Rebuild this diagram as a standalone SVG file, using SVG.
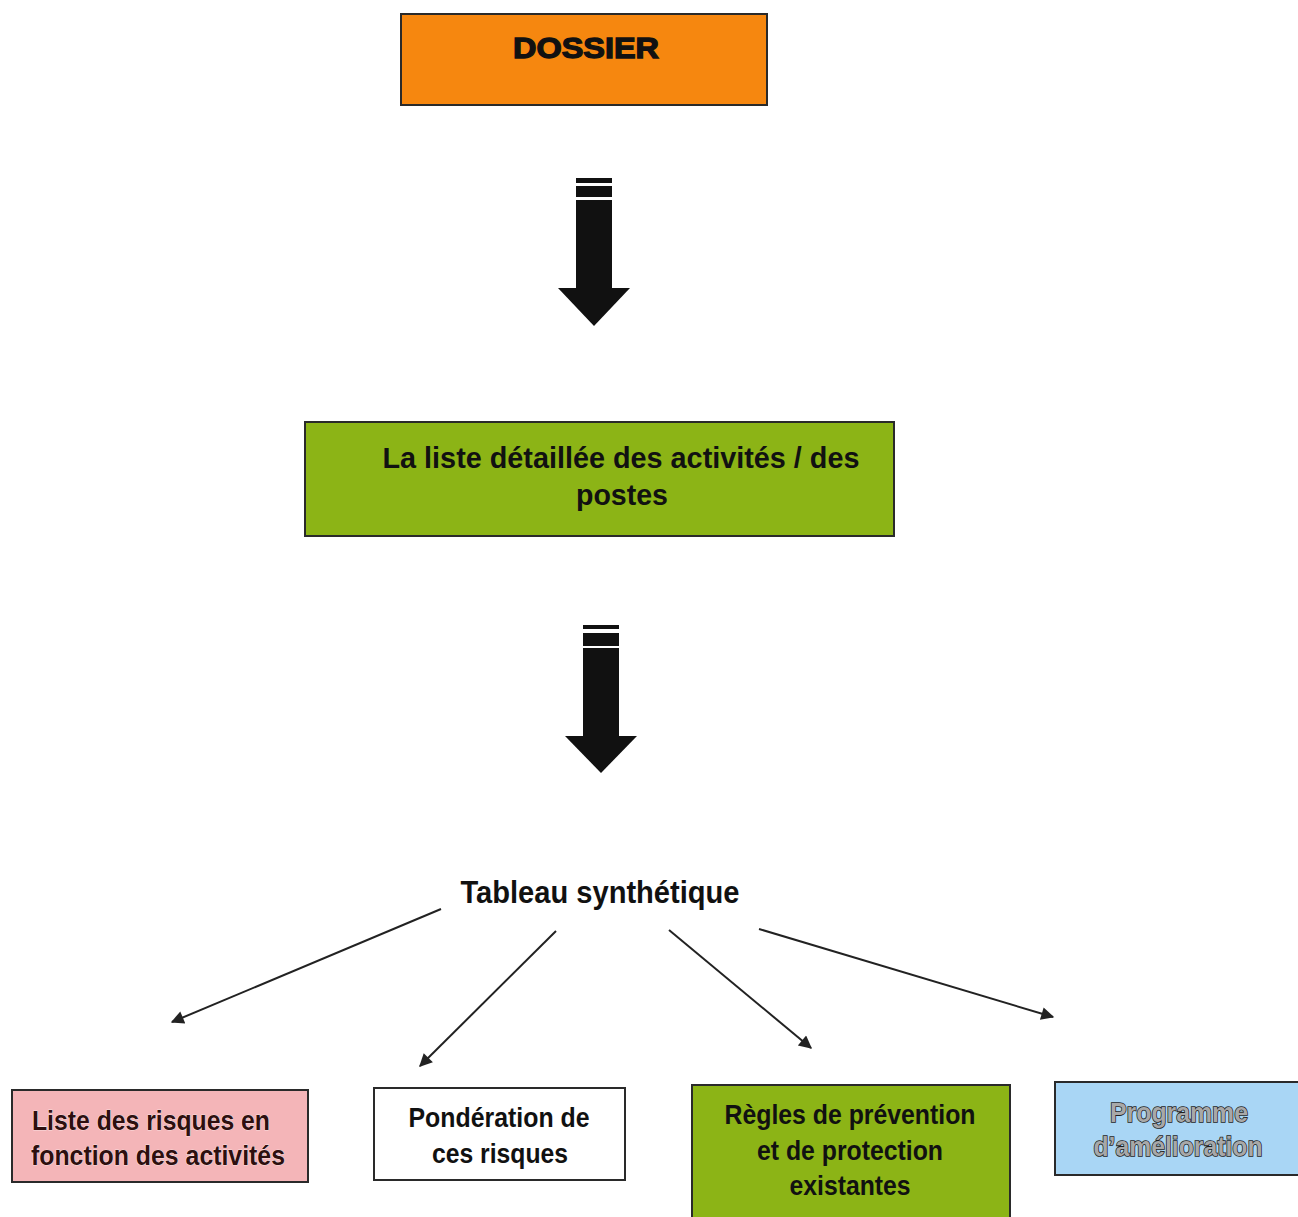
<svg xmlns="http://www.w3.org/2000/svg" width="1298" height="1217" viewBox="0 0 1298 1217">
<defs>
<style>
.box{stroke:#2a2a2a;stroke-width:2}
.t{font-family:"Liberation Sans Narrow","Liberation Sans",Arial,sans-serif;font-weight:bold;fill:#111;text-anchor:middle}
.pinkt{fill:#2e0f0f;stroke:#ffffff;stroke-width:0.6;paint-order:stroke}
.bluet{fill:#a8a8a8;stroke:#1e1e1e;stroke-width:1.6;paint-order:stroke}
.conn{stroke:#222;stroke-width:2;fill:none}
.big{fill:#111}
</style>
<marker id="ah2" viewBox="0 0 10 10" refX="9" refY="5" markerWidth="17" markerHeight="13" orient="auto" markerUnits="userSpaceOnUse">
<path d="M0,0 L10,5 L0,10 z" fill="#222"/>
</marker>
</defs>
<rect width="1298" height="1217" fill="#ffffff"/>

<g id="dossier">
<rect class="box" x="401" y="14" width="366" height="91" fill="#F6870F"/>
<text x="586" y="58" font-family="'Liberation Sans',Arial,sans-serif" font-weight="bold" font-size="29" fill="#111" stroke="#111" stroke-width="1.3" text-anchor="middle" textLength="146" lengthAdjust="spacingAndGlyphs">DOSSIER</text>
</g>

<g id="liste-activites">
<rect class="box" x="305" y="422" width="589" height="114" fill="#8CB416"/>
<text class="t" font-size="30" x="621" y="468" textLength="477" lengthAdjust="spacingAndGlyphs">La liste détaillée des activités / des</text>
<text class="t" font-size="30" x="622" y="505" textLength="92" lengthAdjust="spacingAndGlyphs">postes</text>
</g>

<g id="tableau">
<text class="t" font-size="31" x="600" y="903" textLength="279" lengthAdjust="spacingAndGlyphs">Tableau synthétique</text>
</g>

<g id="liste-risques">
<rect class="box" x="12" y="1090" width="296" height="92" fill="#F4B5B8"/>
<text class="t pinkt" font-size="28" x="151" y="1130" textLength="238" lengthAdjust="spacingAndGlyphs">Liste des risques en</text>
<text class="t pinkt" font-size="28" x="158" y="1165" textLength="254" lengthAdjust="spacingAndGlyphs">fonction des activités</text>
</g>

<g id="ponderation">
<rect class="box" x="374" y="1088" width="251" height="92" fill="#ffffff"/>
<text class="t" font-size="28" x="499" y="1127" textLength="181" lengthAdjust="spacingAndGlyphs">Pondération de</text>
<text class="t" font-size="28" x="500" y="1163" textLength="136" lengthAdjust="spacingAndGlyphs">ces risques</text>
</g>

<g id="regles">
<rect class="box" x="692" y="1085" width="318" height="140" fill="#8CB416"/>
<text class="t" font-size="28" x="850" y="1124" textLength="251" lengthAdjust="spacingAndGlyphs">Règles de prévention</text>
<text class="t" font-size="28" x="850" y="1160" textLength="186" lengthAdjust="spacingAndGlyphs">et de protection</text>
<text class="t" font-size="28" x="850" y="1195" textLength="121" lengthAdjust="spacingAndGlyphs">existantes</text>
</g>

<g id="programme">
<rect class="box" x="1055" y="1082" width="250" height="93" fill="#A9D6F5"/>
<text class="t bluet" font-size="28" x="1179" y="1122" textLength="138" lengthAdjust="spacingAndGlyphs">Programme</text>
<text class="t bluet" font-size="28" x="1178" y="1156" textLength="169" lengthAdjust="spacingAndGlyphs">d’amélioration</text>
</g>

<g id="connectors">
<g class="big">
<rect x="576" y="178" width="36" height="5"/>
<rect x="576" y="186" width="36" height="11"/>
<rect x="576" y="200" width="36" height="89"/>
<polygon points="558,288 630,288 594,326"/>
<rect x="583" y="625" width="36" height="4"/>
<rect x="583" y="633" width="36" height="13"/>
<rect x="583" y="648" width="36" height="89"/>
<polygon points="565,736 637,736 601,773"/>
</g>
<line class="conn" x1="441" y1="909" x2="172" y2="1022" marker-end="url(#ah2)"/>
<line class="conn" x1="556" y1="931" x2="420" y2="1066" marker-end="url(#ah2)"/>
<line class="conn" x1="669" y1="930" x2="811" y2="1048" marker-end="url(#ah2)"/>
<line class="conn" x1="759" y1="929" x2="1053" y2="1017" marker-end="url(#ah2)"/>
</g>
</svg>
